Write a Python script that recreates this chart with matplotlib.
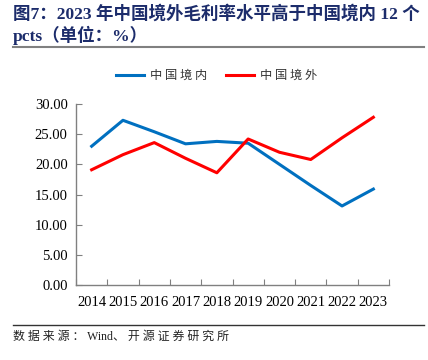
import matplotlib.pyplot as plt
from matplotlib.lines import Line2D

years = ['2014', '2015', '2016', '2017', '2018', '2019', '2020', '2021', '2022', '2023']
domestic = [23.0, 27.3, 25.4, 23.4, 23.8, 23.5, 20.0, 16.5, 13.1, 15.9]
overseas = [19.1, 21.6, 23.6, 21.0, 18.6, 24.2, 22.0, 20.8, 24.4, 27.8]
yticks = [0, 5, 10, 15, 20, 25, 30]

cjk = ['Noto Sans CJK SC', 'DejaVu Sans']
serif = ['Liberation Serif', 'Noto Sans CJK SC']

fig = plt.figure(figsize=(4.28, 3.6), dpi=100)

# title
fig.text(13 / 428, 1 - 14 / 360, '图7：2023 年中国境外毛利率水平高于中国境内 12 个',
         family=serif, fontweight='bold',
         fontsize=12.6, color='#1C2C6B', va='center', ha='left')
fig.text(13 / 428, 1 - 35 / 360, 'pcts（单位：%）',
         family=serif, fontweight='bold',
         fontsize=12.6, color='#1C2C6B', va='center', ha='left')
fig.add_artist(Line2D([13 / 428, 424 / 428], [1 - 47 / 360, 1 - 47 / 360],
                      color='#808080', lw=1.5, transform=fig.transFigure))

ax = fig.add_axes([76 / 428, 1 - 285 / 360, (389 - 76) / 428, (285 - 104) / 360])
x = list(range(len(years)))
ax.plot(x, domestic, color='#0070C0', lw=2.2, label='中 国 境 内')
ax.plot(x, overseas, color='#FF0000', lw=2.2, label='中 国 境 外')

ax.set_xlim(-0.5, len(years) - 0.5)
ax.set_ylim(0, 30)
ax.set_yticks(yticks)
ax.set_yticklabels(['%.2f' % v for v in yticks], family=serif, fontsize=10.5)
ax.set_xticks([i - 0.5 for i in range(len(years) + 1)], minor=False)
ax.set_xticklabels([''] * (len(years) + 1))
ax.set_xticks(x, minor=True)
ax.set_xticklabels(years, minor=True, family=serif, fontsize=10.5)
ax.tick_params(axis='x', which='major', direction='in', length=4, color='#808080')
ax.tick_params(axis='x', which='minor', length=0, pad=8)
ax.tick_params(axis='y', direction='in', length=4, color='#808080', pad=6)

for s in ['top', 'right']:
    ax.spines[s].set_visible(False)
for s in ['left', 'bottom']:
    ax.spines[s].set_color('#808080')
    ax.spines[s].set_linewidth(1)

ax.legend(loc='lower center', bbox_to_anchor=(0.45, 1.06), ncol=2, frameon=False,
          prop={'family': cjk, 'size': 8.8}, handlelength=2.3, handletextpad=0.5,
          columnspacing=1.5, labelcolor='#333333')

# source
fig.add_artist(Line2D([13 / 428, 424 / 428], [1 - 325 / 360, 1 - 325 / 360],
                      color='#333333', lw=1, transform=fig.transFigure))
fig.text(13 / 428, 1 - 337 / 360, '数 据 来 源 ： Wind、 开 源 证 券 研 究 所',
         family=serif, fontsize=8.6,
         color='#222222', va='center', ha='left')

fig.savefig('out.png', dpi=100)
